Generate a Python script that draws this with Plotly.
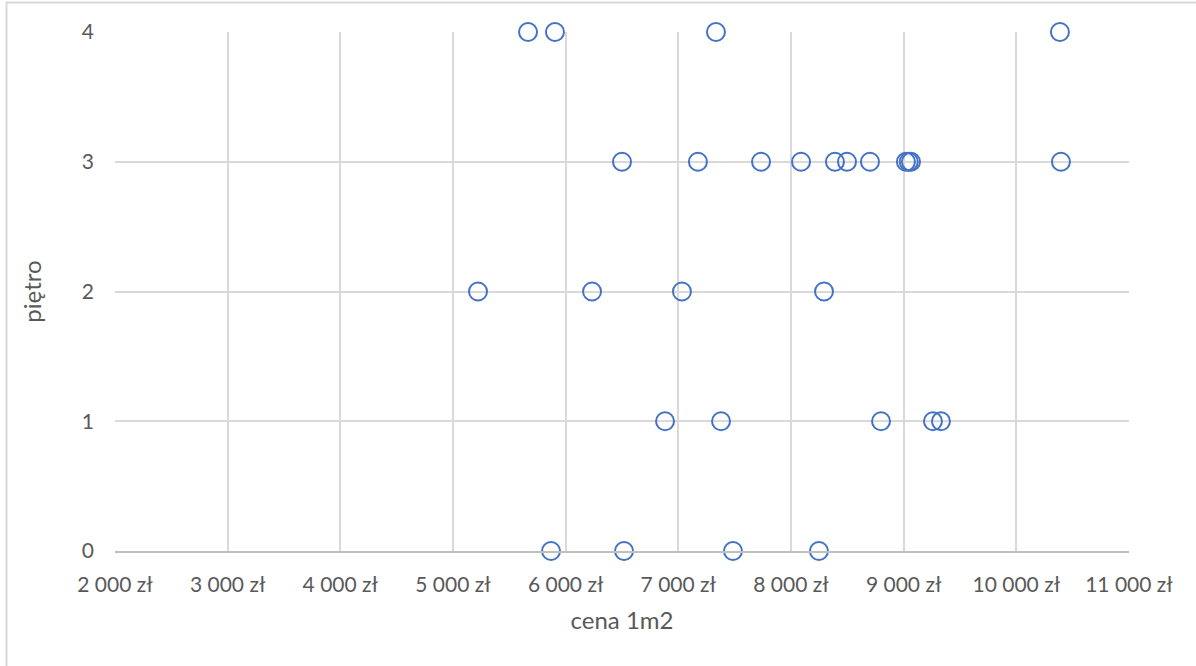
import plotly.graph_objects as go

# Price per square metre (zł) grouped by floor
floor_4 = [5666, 5905, 7334, 10387]
floor_3 = [6500, 7174, 7734, 8089, 8390, 8497, 8701, 9020, 9045, 9065, 10396]
floor_2 = [5222, 6234, 7032, 8293]
floor_1 = [6882, 7379, 8799, 9260, 9331]
floor_0 = [5870, 6518, 7485, 8248]

x_ticks = list(range(2000, 11001, 1000))
x_tick_labels = [f"{v:,}".replace(",", " ") + " zł" for v in x_ticks]
y_ticks = [0, 1, 2, 3, 4]

prices = floor_0 + floor_1 + floor_2 + floor_3 + floor_4
floors = ([0] * len(floor_0) + [1] * len(floor_1) + [2] * len(floor_2)
          + [3] * len(floor_3) + [4] * len(floor_4))

W, H = 1196, 666
L, R, T, B = 115, W - 1129, 32, H - 551

fig = go.Figure()
fig.add_trace(go.Scatter(
    x=prices, y=floors, mode="markers", cliponaxis=False,
    marker=dict(symbol="circle-open", size=18, color="#4472c4",
                line=dict(width=2, color="#4472c4")),
    showlegend=False,
))

font_family = "Lato, Calibri, Arial, sans-serif"
text_color = "#595959"

fig.update_layout(
    width=W, height=H,
    margin=dict(l=L, r=R, t=T, b=B, pad=0),
    paper_bgcolor="white", plot_bgcolor="white",
    font=dict(family=font_family, color=text_color, size=21),
    xaxis=dict(
        range=[2000, 11000], tickvals=x_ticks, ticktext=x_tick_labels,
        showgrid=True, gridcolor="#d9d9d9", gridwidth=1.5,
        showline=True, linecolor="#bfbfbf", linewidth=1.5,
        zeroline=False, ticks="", ticklabelstandoff=14,
        title=dict(text="cena 1m2", font=dict(size=24, color=text_color), standoff=17),
    ),
    yaxis=dict(
        range=[0, 4], tickvals=y_ticks,
        showgrid=True, gridcolor="#d9d9d9", gridwidth=1.5,
        showline=False, zeroline=False, ticks="", ticklabelstandoff=20,
        title=dict(text="piętro", font=dict(size=24, color=text_color), standoff=33),
    ),
    shapes=[dict(
        type="rect", xref="paper", yref="paper",
        x0=(6.5 - L) / (W - L - R), x1=1.2,
        y0=-0.4, y1=(H - B - 2.5) / (H - T - B),
        line=dict(color="#d9d9d9", width=2), layer="below",
    )],
)

fig.write_html("out.html")
